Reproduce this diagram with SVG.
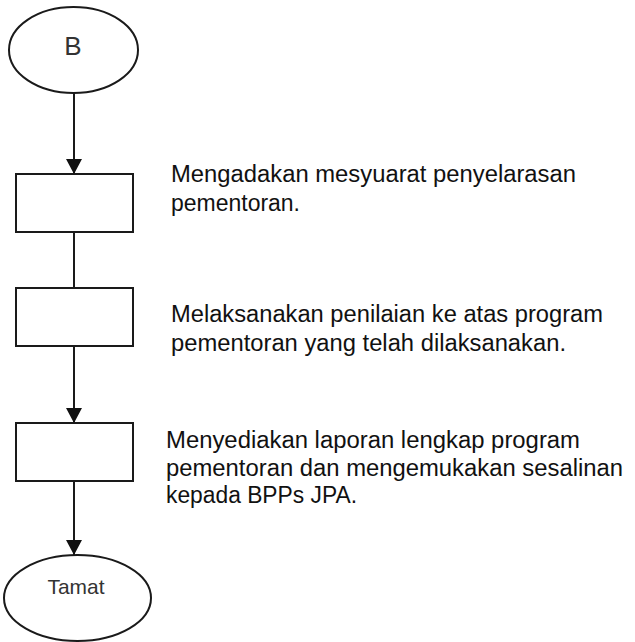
<svg xmlns="http://www.w3.org/2000/svg" width="635" height="642" viewBox="0 0 635 642">
<defs>
<style>
.shape{fill:#fff;stroke:#1a1a1a;stroke-width:2}
.conn{stroke:#1a1a1a;stroke-width:2;fill:none}
.lbl{font-family:"Liberation Sans",Arial,sans-serif;font-size:23.5px;fill:#111}
.term{font-family:"Liberation Sans",Arial,sans-serif;fill:#333;text-anchor:middle}
</style>
<marker id="arr" markerWidth="16" markerHeight="16" viewBox="0 0 16 16" refX="15" refY="8" orient="auto" markerUnits="userSpaceOnUse">
<path d="M0,0 L15,8 L0,16 Z" fill="#111"/>
</marker>
</defs>
<rect width="635" height="642" fill="#fff"/>
<g id="connectors">
<line class="conn" x1="74" y1="93" x2="74" y2="174" marker-end="url(#arr)"/>
<line class="conn" x1="74" y1="232" x2="74" y2="288"/>
<line class="conn" x1="74" y1="346" x2="74" y2="423" marker-end="url(#arr)"/>
<line class="conn" x1="74" y1="481" x2="74" y2="555" marker-end="url(#arr)"/>
</g>
<g id="start">
<ellipse class="shape" cx="73.5" cy="50" rx="64.5" ry="43"/>
<text class="term" x="73" y="55" font-size="26">B</text>
</g>
<g id="step1">
<rect class="shape" x="16" y="174" width="117" height="58"/>
</g>
<g id="step2">
<rect class="shape" x="16" y="288" width="117" height="58"/>
</g>
<g id="step3">
<rect class="shape" x="16" y="423" width="117" height="58"/>
</g>
<g id="end">
<ellipse class="shape" cx="77.5" cy="598" rx="73.5" ry="43"/>
<text class="term" x="76" y="594" font-size="21" textLength="57" lengthAdjust="spacingAndGlyphs">Tamat</text>
</g>
<g id="labels">
<text class="lbl" x="171" y="182" textLength="405" lengthAdjust="spacingAndGlyphs">Mengadakan mesyuarat penyelarasan</text>
<text class="lbl" x="171" y="211" textLength="129" lengthAdjust="spacingAndGlyphs">pementoran.</text>
<text class="lbl" x="171" y="322" textLength="432" lengthAdjust="spacingAndGlyphs">Melaksanakan penilaian ke atas program</text>
<text class="lbl" x="171" y="351" textLength="395" lengthAdjust="spacingAndGlyphs">pementoran yang telah dilaksanakan.</text>
<text class="lbl" x="166" y="448" textLength="414" lengthAdjust="spacingAndGlyphs">Menyediakan laporan lengkap program</text>
<text class="lbl" x="166" y="476" textLength="457" lengthAdjust="spacingAndGlyphs">pementoran dan mengemukakan sesalinan</text>
<text class="lbl" x="166" y="503" textLength="191" lengthAdjust="spacingAndGlyphs">kepada BPPs JPA.</text>
</g>
</svg>
